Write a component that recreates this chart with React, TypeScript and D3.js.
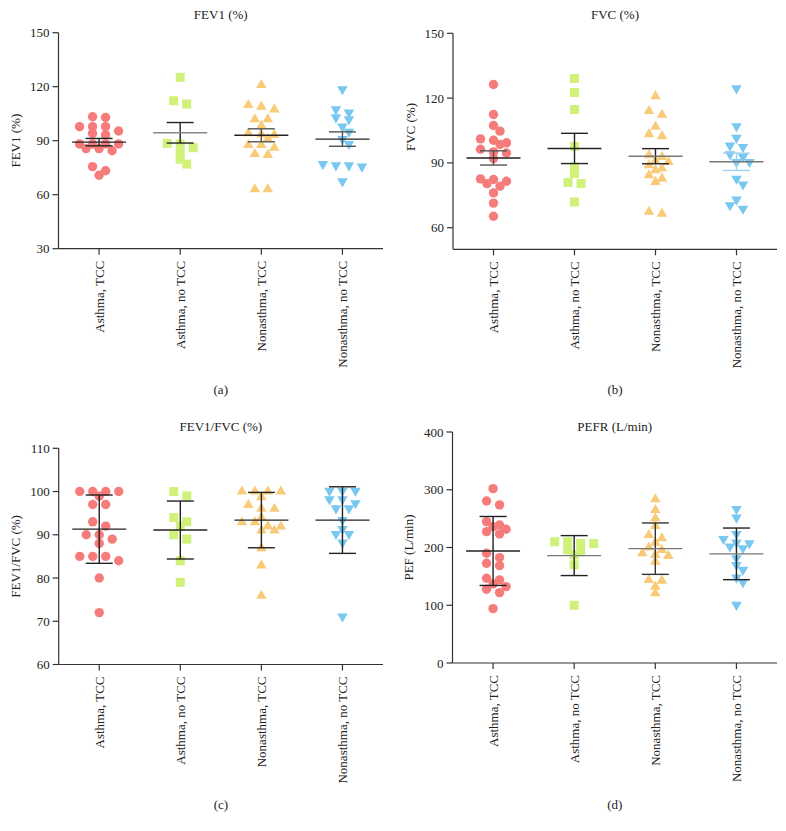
import React from "react";
import * as d3 from "d3";

const categories = ["Asthma, TCC", "Asthma, no TCC", "Nonasthma, TCC", "Nonasthma, no TCC"];

// (a) FEV1 (%)
const fev1AsthmaTcc = [103.3, 102.9, 97.8, 97.8, 97.8, 95.4, 94.1, 93.2, 88.2, 88.2, 88.2, 88.2, 85.6, 85.6, 84.4, 75.6, 73.3, 70.8];
const fev1AsthmaNoTcc = [125.2, 112.2, 110.4, 88.5, 88.2, 86.1, 83.3, 79.7, 77];
const fev1NonTcc = [120.9, 109.8, 108.9, 107.4, 101.9, 101.9, 98.2, 94.1, 93.5, 93.2, 90.9, 87.6, 87.6, 86.1, 82.6, 82.1, 63, 63];
const fev1NonNoTcc = [118.6, 107.4, 105.6, 103, 101.9, 97.8, 95, 90.9, 88.2, 77, 76.3, 76.3, 75.6, 67.4];
const fev1Mean = [89.2, 94.4, 93.0, 90.9];
const fev1Err = [2.05, 5.7, 3.6, 4.0];
const fev1Ticks = [30, 60, 90, 120, 150];

// (b) FVC (%)
const fvcAsthmaTcc = [126.3, 112.4, 107.3, 104.7, 101.1, 100.5, 99.3, 98.5, 96.3, 95.1, 94.6, 92, 82.6, 82.3, 81.5, 80.4, 79.2, 76.1, 71.4, 65.3];
const fvcAsthmaNoTcc = [129.1, 122.6, 114.7, 97.7, 88.1, 85.1, 80.9, 80.4, 71.9];
const fvcNonTcc = [120.9, 114, 112.3, 106.7, 103.3, 102.4, 93.6, 92.8, 91, 90.4, 88.9, 87.4, 86.6, 84.3, 82.7, 81.2, 67.4, 66.5];
const fvcNonNoTcc = [124.5, 107, 101.6, 98, 97.4, 94, 92.8, 90.4, 90.4, 82.7, 80, 73, 70.4, 68.8];
const fvcMean = [92.3, 96.7, 93.1, 90.5];
const fvcErr = [3.3, 7.0, 3.5, 4.0];
const fvcTicks = [60, 90, 120, 150];

// (c) FEV1/FVC (%)
const ratioAsthmaTcc = [100, 100, 100, 100, 98.9, 97, 97, 93, 92, 90, 90, 89, 88, 85, 85, 85, 84, 80, 72];
const ratioAsthmaNoTcc = [100, 99, 94, 93, 92, 90, 89, 84, 79];
const ratioNonTcc = [100, 100, 100, 100, 98.7, 96.9, 96, 96, 94, 92.9, 92.9, 92, 91.9, 91, 91, 86.9, 82.9, 75.9];
const ratioNonNoTcc = [100.2, 100.2, 100.2, 98.2, 98.2, 97.3, 96.1, 96.1, 93.4, 91.3, 90.2, 90.2, 88.2, 71.1];
const ratioMean = [91.3, 91.1, 93.4, 93.4];
const ratioErr = [7.9, 6.7, 6.4, 7.7];
const ratioTicks = [60, 70, 80, 90, 100, 110];

// (d) PEFR (L/min)
const pefAsthmaTcc = [301.9, 280.6, 273.7, 244.8, 239, 236.1, 231.6, 227.5, 223.5, 190.1, 182.5, 172.8, 168.6, 146.8, 143.9, 137, 132.3, 127.8, 121.9, 94.2];
const pefAsthmaNoTcc = [210, 210, 207, 207, 196, 193, 187, 170, 100];
const pefNonTcc = [283.5, 265, 250.6, 237.3, 221.7, 216, 208.4, 200, 195.8, 190, 187.1, 185.4, 175.5, 143.8, 142.6, 132.2, 120.8];
const pefNonNoTcc = [266.8, 251.7, 223.5, 214.8, 208.4, 207.3, 201.5, 198.7, 181.4, 169.8, 161.2, 147.8, 139.9, 100.6];
const pefMean = [194, 186, 198, 189];
const pefErr = [59.7, 34.6, 44.5, 44.7];
const pefTicks = [0, 100, 200, 300, 400];

const FONT = "'Liberation Serif', 'Times New Roman', serif";
const COLORS = ["#F67C7B", "#D0F27A", "#F9CB78", "#78C8F0"];
const AXIS = "#333";

type Panel = {
  title: string;
  yLabel: string;
  sub: string;
  groups: number[][];
  means: number[];
  errs: number[];
  ticks: number[];
  domain: [number, number];
  x0: number;
  x1: number;
  yTop: number;
  yBottom: number;
  titleY: number;
  yLabelX: number;
  yLabelY?: number;
  subY: number;
  meanColors: string[];
  errColors: string[];
};

const panels: Panel[] = [
  {
    title: "FEV1 (%)", yLabel: "FEV1 (%)", sub: "(a)",
    groups: [fev1AsthmaTcc, fev1AsthmaNoTcc, fev1NonTcc, fev1NonNoTcc],
    means: fev1Mean, errs: fev1Err, ticks: fev1Ticks, domain: [30, 150],
    x0: 58.5, x1: 383, yTop: 32.7, yBottom: 248.7, titleY: 19, yLabelX: 15, subY: 394,
    meanColors: ["#222", "#888", "#222", "#222"], errColors: ["#222", "#222", "#555", "#555"],
  },
  {
    title: "FVC (%)", yLabel: "FVC (%)", sub: "(b)",
    groups: [fvcAsthmaTcc, fvcAsthmaNoTcc, fvcNonTcc, fvcNonNoTcc],
    means: fvcMean, errs: fvcErr, ticks: fvcTicks, domain: [50, 150],
    x0: 453, x1: 777, yTop: 33.3, yBottom: 249.3, titleY: 19, yLabelX: 410, yLabelY: 127, subY: 394,
    meanColors: ["#222", "#222", "#777", "#777"], errColors: ["#555", "#222", "#222", "#9CD3EF"],
  },
  {
    title: "FEV1/FVC (%)", yLabel: "FEV1/FVC (%)", sub: "(c)",
    groups: [ratioAsthmaTcc, ratioAsthmaNoTcc, ratioNonTcc, ratioNonNoTcc],
    means: ratioMean, errs: ratioErr, ticks: ratioTicks, domain: [60, 110],
    x0: 58.7, x1: 383, yTop: 448.3, yBottom: 664.5, titleY: 431, yLabelX: 15, subY: 809,
    meanColors: ["#222", "#222", "#222", "#222"], errColors: ["#222", "#222", "#222", "#222"],
  },
  {
    title: "PEFR (L/min)", yLabel: "PEF (L/min)", sub: "(d)",
    groups: [pefAsthmaTcc, pefAsthmaNoTcc, pefNonTcc, pefNonNoTcc],
    means: pefMean, errs: pefErr, ticks: pefTicks, domain: [0, 400],
    x0: 452.5, x1: 777, yTop: 432, yBottom: 663, titleY: 431, yLabelX: 408.5, subY: 809,
    meanColors: ["#222", "#777", "#777", "#777"], errColors: ["#222", "#222", "#333", "#222"],
  },
];

function swarm(values: number[], y: (v: number) => number) {
  const thr = 4.5, step = 13, minDist = 6;
  const sorted = values.map((v) => ({ v, py: y(v) })).sort((a, b) => a.py - b.py);
  const rows: { v: number; py: number }[][] = [];
  let cur: { v: number; py: number }[] = [];
  for (const p of sorted) {
    if (cur.length && p.py - cur[0].py > thr) {
      rows.push(cur);
      cur = [p];
    } else cur.push(p);
  }
  if (cur.length) rows.push(cur);
  const placed: { dx: number; py: number; v: number }[] = [];
  const shifts = [0, 6.5, -6.5, 13, -13, 19.5, -19.5];
  for (const row of rows) {
    const n = row.length;
    let chosen = 0;
    for (const s of shifts) {
      const ok = row.every((p, i) => {
        const dx = (i - (n - 1) / 2) * step + s;
        return placed.every((q) => Math.hypot(q.dx - dx, q.py - p.py) >= minDist);
      });
      if (ok) { chosen = s; break; }
    }
    row.forEach((p, i) => placed.push({ dx: (i - (n - 1) / 2) * step + chosen, py: p.py, v: p.v }));
  }
  return placed;
}

const triUp = d3.symbol().type(d3.symbolTriangle).size(48)() as string;

function Marker({ kind, x, y, color }: { kind: number; x: number; y: number; color: string }) {
  if (kind === 0) return <circle cx={x} cy={y} r={4.7} fill={color} />;
  if (kind === 1) return <rect x={x - 4.5} y={y - 4.5} width={9} height={9} fill={color} />;
  if (kind === 2) return <path d={triUp} transform={`translate(${x},${y})`} fill={color} />;
  return <path d={triUp} transform={`translate(${x},${y}) rotate(180)`} fill={color} />;
}

function PanelView({ p }: { p: Panel }) {
  const y = d3.scaleLinear().domain(p.domain).range([p.yBottom, p.yTop]);
  const x = d3.scaleBand<string>().domain(categories).range([p.x0, p.x1]);
  const cx = (c: string) => (x(c) as number) + x.bandwidth() / 2;
  const midX = (p.x0 + p.x1) / 2;
  const yLabelY = p.yLabelY ?? (p.yTop + p.yBottom) / 2;
  return (
    <g fontFamily={FONT}>
      <text x={midX} y={p.titleY} textAnchor="middle" fontSize={13} fill="#222">{p.title}</text>
      <text transform={`translate(${p.yLabelX},${yLabelY}) rotate(-90)`} textAnchor="middle" dy="0.35em" fontSize={13} fill="#222">{p.yLabel}</text>
      {/* y axis */}
      <line x1={p.x0} x2={p.x0} y1={p.yTop} y2={p.yBottom} stroke={AXIS} strokeWidth={1.2} />
      {p.ticks.map((t) => (
        <g key={t}>
          <line x1={p.x0 - 6} x2={p.x0} y1={y(t)} y2={y(t)} stroke={AXIS} strokeWidth={1.2} />
          <text x={p.x0 - 9} y={y(t)} dy="0.35em" textAnchor="end" fontSize={13} fill="#222">{t}</text>
        </g>
      ))}
      {/* x axis */}
      <line x1={p.x0} x2={p.x1} y1={p.yBottom} y2={p.yBottom} stroke={AXIS} strokeWidth={1.2} />
      {categories.map((c) => (
        <g key={c}>
          <line x1={cx(c)} x2={cx(c)} y1={p.yBottom} y2={p.yBottom + 6} stroke={AXIS} strokeWidth={1.2} />
          <text transform={`translate(${cx(c)},${p.yBottom + 12}) rotate(-90)`} textAnchor="end" dy="0.35em" fontSize={13} fill="#222">{c}</text>
        </g>
      ))}
      {/* points */}
      {p.groups.map((vals, gi) => {
        const c = cx(categories[gi]);
        return swarm(vals, (v) => y(v)).map((pt, i) => (
          <Marker key={`${gi}-${i}`} kind={gi} x={c + pt.dx} y={pt.py} color={COLORS[gi]} />
        ));
      })}
      {/* mean and error bars */}
      {p.means.map((m, gi) => {
        const c = cx(categories[gi]);
        const e = p.errs[gi];
        const ec = p.errColors[gi];
        return (
          <g key={`m${gi}`} strokeWidth={1.4} fill="none">
            <line x1={c} x2={c} y1={y(m + e)} y2={y(m - e)} stroke={ec} />
            <line x1={c - 13.5} x2={c + 13.5} y1={y(m + e)} y2={y(m + e)} stroke={ec} />
            <line x1={c - 13.5} x2={c + 13.5} y1={y(m - e)} y2={y(m - e)} stroke={ec} />
            <line x1={c - 27} x2={c + 27} y1={y(m)} y2={y(m)} stroke={p.meanColors[gi]} />
          </g>
        );
      })}
      <text x={midX} y={p.subY} textAnchor="middle" fontSize={13} fill="#222">{p.sub}</text>
    </g>
  );
}

export default function App() {
  return (
    <svg width={786} height={831} style={{ position: "absolute", left: 0, top: 0, background: "#fff" }}>
      <rect x={0} y={0} width={786} height={831} fill="#fff" />
      {panels.map((p) => (
        <PanelView key={p.sub} p={p} />
      ))}
    </svg>
  );
}
